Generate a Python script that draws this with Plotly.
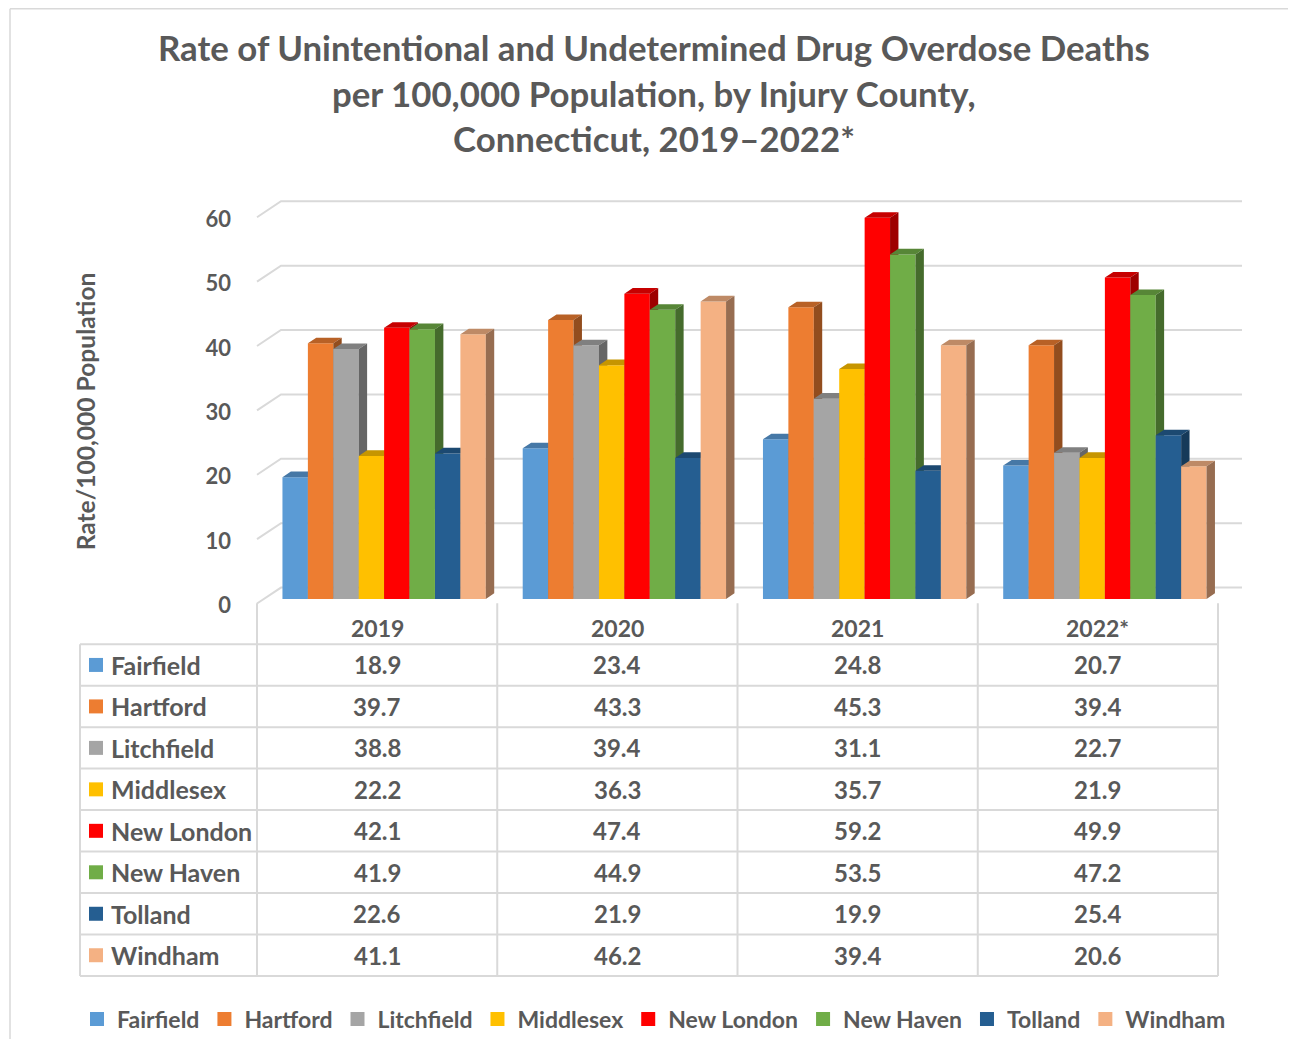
import plotly.graph_objects as go

# ---------------- data ----------------
years = ["2019", "2020", "2021", "2022*"]
counties = ["Fairfield", "Hartford", "Litchfield", "Middlesex",
            "New London", "New Haven", "Tolland", "Windham"]
fairfield = [18.9, 23.4, 24.8, 20.7]
hartford = [39.7, 43.3, 45.3, 39.4]
litchfield = [38.8, 39.4, 31.1, 22.7]
middlesex = [22.2, 36.3, 35.7, 21.9]
new_london = [42.1, 47.4, 59.2, 49.9]
new_haven = [41.9, 44.9, 53.5, 47.2]
tolland = [22.6, 21.9, 19.9, 25.4]
windham = [41.1, 46.2, 39.4, 20.6]
series = [fairfield, hartford, litchfield, middlesex,
          new_london, new_haven, tolland, windham]
y_ticks = [0, 10, 20, 30, 40, 50, 60]

colors = ["#5B9BD5", "#ED7D31", "#A5A5A5", "#FFC000",
          "#FF0000", "#70AD47", "#255E91", "#F4B183"]

# ---------------- geometry / style ----------------
OFF = 8                     # page offset of the plot div (body margin)
FW, FH = 1280, 1039         # figure size
FONT = "Lato"
TXT = "#595959"
GRID = "#D9D9D9"

X_PX0, X_SCALE = 257.0, 240.25      # page pixel of x=-0.5, px per category
Y_PX0, Y_SCALE = 605.3, 6.443       # page pixel of y=0 (front plane), px per unit
PA_L, PA_R, PA_T, PA_B = 250, 1250, 190, 612

xr = [-0.5 + (PA_L - X_PX0) / X_SCALE, -0.5 + (PA_R - X_PX0) / X_SCALE]
yr = [(Y_PX0 - PA_B) / Y_SCALE, (Y_PX0 - PA_T) / Y_SCALE]

DX = 24 / X_SCALE     # full depth shift (data units)
DY = 16 / Y_SCALE
D_FRONT, D_BACK = 0.29, 0.64
GROUP_START = -0.423
BAR_W = 0.1058


def px(x):
    return (x - OFF) / FW


def py(y):
    y = (y - 1.4) / 0.993
    return 1 - (y - OFF) / FH


def shade(hexc, f):
    h = hexc.lstrip("#")
    r, g, b = (int(h[i:i + 2], 16) for i in (0, 2, 4))
    return "rgb(%d,%d,%d)" % (int(r * f), int(g * f), int(b * f))


def pt(x, y, d):
    return x + DX * d, y + DY * d


fig = go.Figure()

for k, (name, vals, col) in enumerate(zip(counties, series, colors)):
    fx, fy, tx, ty, sx, sy = [], [], [], [], [], []
    for i, v in enumerate(vals):
        x0 = i + GROUP_START + k * BAR_W
        x1 = x0 + BAR_W
        # front face
        for (a, b) in [(x0, 0), (x1, 0), (x1, v), (x0, v), (x0, 0)]:
            p = pt(a, b, D_FRONT)
            fx.append(p[0]); fy.append(p[1])
        fx.append(None); fy.append(None)
        # top face
        for (a, b, d) in [(x0, v, D_FRONT), (x1, v, D_FRONT), (x1, v, D_BACK),
                          (x0, v, D_BACK), (x0, v, D_FRONT)]:
            p = pt(a, b, d)
            tx.append(p[0]); ty.append(p[1])
        tx.append(None); ty.append(None)
        # side face
        for (a, b, d) in [(x1, 0, D_FRONT), (x1, v, D_FRONT), (x1, v, D_BACK),
                          (x1, 0, D_BACK), (x1, 0, D_FRONT)]:
            p = pt(a, b, d)
            sx.append(p[0]); sy.append(p[1])
        sx.append(None); sy.append(None)
    for xs, ys, c in [(fx, fy, col), (tx, ty, shade(col, 0.78)), (sx, sy, shade(col, 0.62))]:
        fig.add_trace(go.Scatter(x=xs, y=ys, mode="lines", fill="toself",
                                 fillcolor=c, line=dict(width=0, color=c),
                                 showlegend=False, hoverinfo="skip", name=name))

# legend entries
for name, col in zip(counties, colors):
    fig.add_trace(go.Scatter(x=[None], y=[None], mode="markers", name=name,
                             marker=dict(symbol="square", size=14, color=col)))

shapes = []
# wall gridlines (left wall + back wall)
for v in y_ticks:
    a = pt(-0.5, v, 0)
    b = pt(-0.5, v, 1)
    c = pt(3.5, v, 1)
    shapes.append(dict(type="path", xref="x", yref="y", layer="below",
                       path="M %f,%f L %f,%f L %f,%f" % (a[0], a[1], b[0], b[1], c[0], c[1]),
                       line=dict(color=GRID, width=2)))

# data table
col_edges = [X_PX0 + X_SCALE * j for j in range(len(years) + 1)]
row_top = 646.0
row_h = 41.5
row_edges = [row_top + row_h * r for r in range(len(counties) + 1)]
tbl_left = 80
tbl_bottom = row_edges[-1]
for xe in col_edges:
    shapes.append(dict(type="line", xref="paper", yref="paper",
                       x0=px(xe), x1=px(xe), y0=py(605), y1=py(tbl_bottom),
                       line=dict(color=GRID, width=2)))
shapes.append(dict(type="line", xref="paper", yref="paper",
                   x0=px(tbl_left), x1=px(tbl_left), y0=py(row_top), y1=py(tbl_bottom),
                   line=dict(color=GRID, width=2)))
for ye in row_edges:
    shapes.append(dict(type="line", xref="paper", yref="paper",
                       x0=px(tbl_left), x1=px(col_edges[-1]), y0=py(ye), y1=py(ye),
                       line=dict(color=GRID, width=2)))
# outer chart border (top and left edges visible)
shapes.append(dict(type="line", xref="paper", yref="paper",
                   x0=px(10), x1=1.0, y0=1 - 0.8 / FH, y1=1 - 0.8 / FH,
                   line=dict(color=GRID, width=1.5)))
shapes.append(dict(type="line", xref="paper", yref="paper",
                   x0=px(10), x1=px(10), y0=0, y1=1 - 0.8 / FH,
                   line=dict(color=GRID, width=1.5)))

annotations = []
# title
title_lines = ["Rate of Unintentional and Undetermined Drug Overdose Deaths",
               "per 100,000 Population, by Injury County,",
               "Connecticut, 2019\u20132022*"]
for line, yy in zip(title_lines, [49, 95, 140]):
    annotations.append(dict(text="<b>%s</b>" % line, x=px(654), y=py(yy),
                            xref="paper", yref="paper", showarrow=False,
                            xanchor="center", yanchor="middle",
                            font=dict(family=FONT, size=34.8, color=TXT)))
# y axis title
annotations.append(dict(text="<b>Rate/100,000 Population</b>", x=px(85), y=py(413),
                        xref="paper", yref="paper", showarrow=False, textangle=-90,
                        xanchor="center", yanchor="middle",
                        font=dict(family=FONT, size=24.6, color=TXT)))
# table header
for j, yname in enumerate(years):
    annotations.append(dict(text="<b>%s</b>" % yname,
                            x=px((col_edges[j] + col_edges[j + 1]) / 2), y=py(630),
                            xref="paper", yref="paper", showarrow=False,
                            xanchor="center", yanchor="middle",
                            font=dict(family=FONT, size=23, color=TXT)))
# table rows
for r, (name, vals, col) in enumerate(zip(counties, series, colors)):
    yc = (row_edges[r] + row_edges[r + 1]) / 2
    shapes.append(dict(type="rect", xref="paper", yref="paper",
                       x0=px(89), x1=px(103), y0=py(yc + 7), y1=py(yc - 7),
                       fillcolor=col, line=dict(width=0)))
    annotations.append(dict(text="<b>%s</b>" % name, x=px(109), y=py(yc),
                            xref="paper", yref="paper", showarrow=False,
                            xanchor="left", yanchor="middle",
                            font=dict(family=FONT, size=25, color=TXT)))
    for j, v in enumerate(vals):
        annotations.append(dict(text="<b>%.1f</b>" % v,
                                x=px((col_edges[j] + col_edges[j + 1]) / 2), y=py(yc),
                                xref="paper", yref="paper", showarrow=False,
                                xanchor="center", yanchor="middle",
                                font=dict(family=FONT, size=24, color=TXT)))

fig.update_layout(
    width=FW, height=FH,
    margin=dict(l=0, r=0, t=0, b=0),
    paper_bgcolor="white", plot_bgcolor="white",
    font=dict(family=FONT, color=TXT),
    xaxis=dict(domain=[px(PA_L), px(PA_R)], range=xr, visible=False, fixedrange=True),
    yaxis=dict(domain=[py(PA_B), py(PA_T)], range=yr, showgrid=False, zeroline=False,
               showline=False, tickvals=y_ticks, ticktext=["<b>%d</b>" % t for t in y_ticks],
               tickfont=dict(family=FONT, size=22, color=TXT), ticks="",
               ticklabelstandoff=18, ticklabelshift=2, fixedrange=True),
    shapes=shapes,
    annotations=annotations,
    showlegend=True,
    legend=dict(orientation="h", x=px(77), y=py(1021), xanchor="left", yanchor="middle",
                font=dict(family=FONT, size=23, color=TXT, weight="bold"), itemclick=False,
                tracegroupgap=0, itemwidth=30, bgcolor="rgba(0,0,0,0)"),
)

fig.write_html("out.html")
